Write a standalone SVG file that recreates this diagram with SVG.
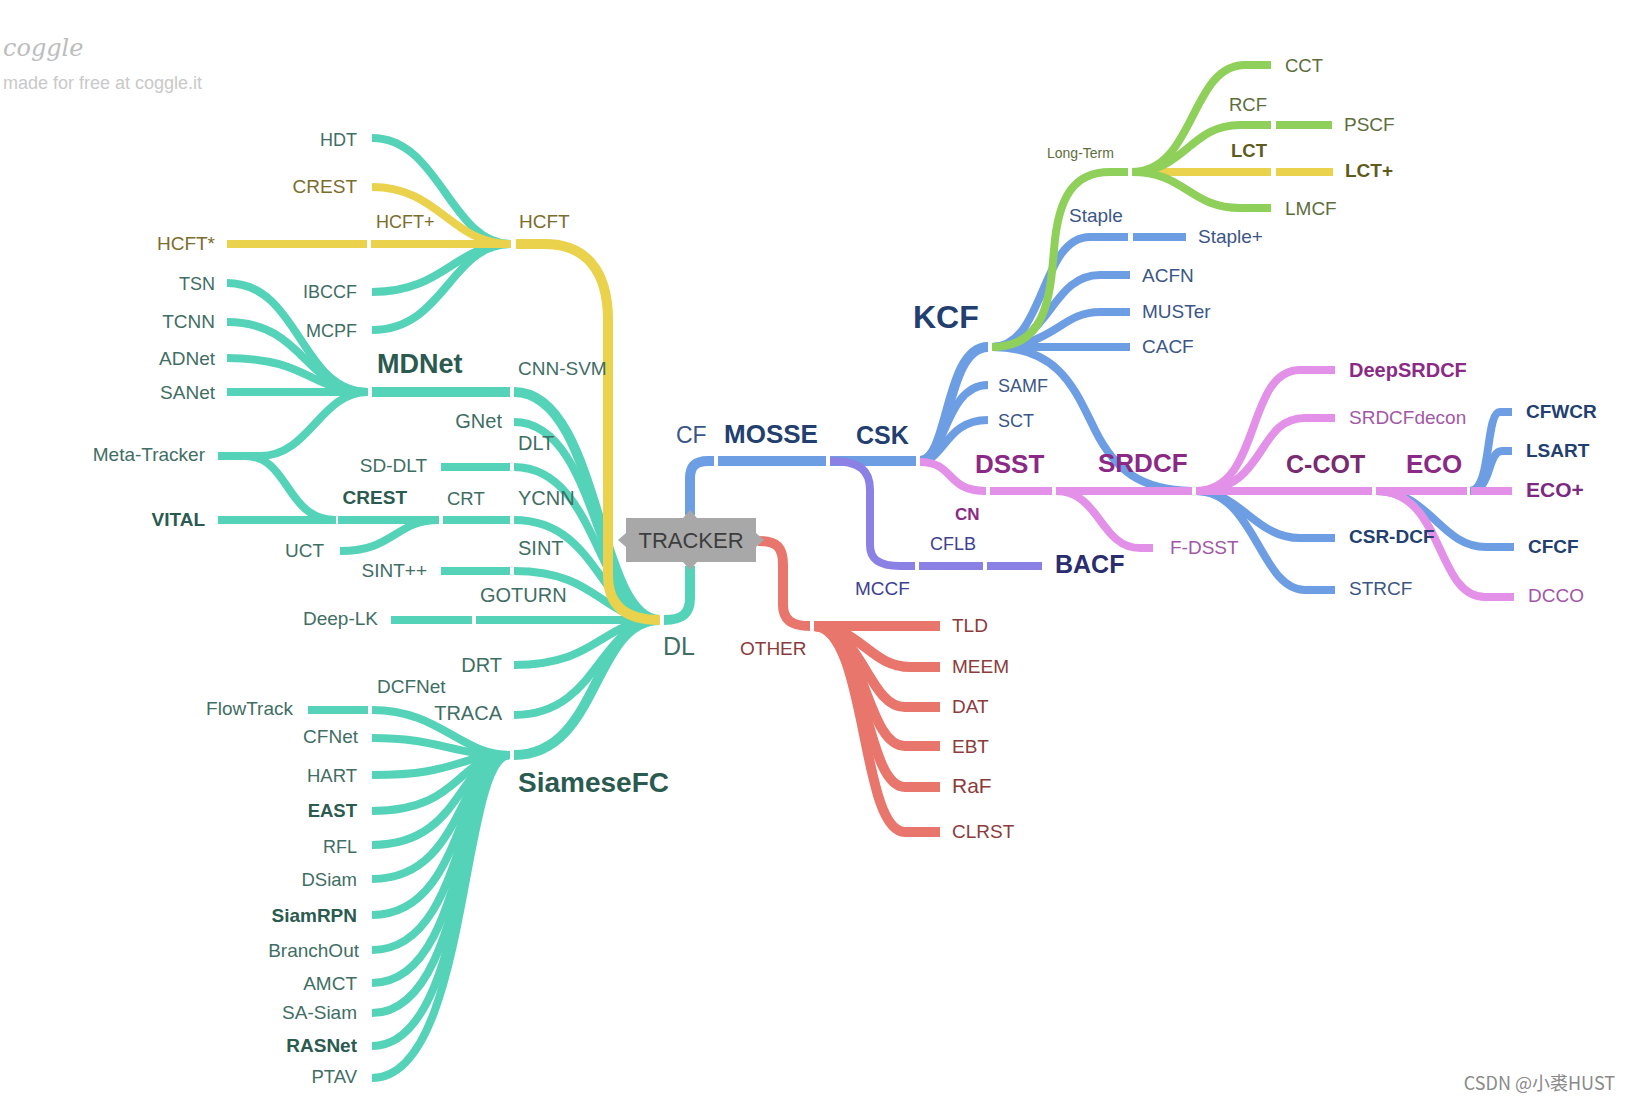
<svg xmlns="http://www.w3.org/2000/svg" width="1631" height="1104" viewBox="0 0 1631 1104">
<style>
.e{fill:none;stroke-linecap:butt;stroke-linejoin:round;stroke-width:8}
.w{stroke-width:10}
.teal{stroke:#55d3b9}.yel{stroke:#ead24c}.blu{stroke:#6d9ee3}.grn{stroke:#8fd05a}.pnk{stroke:#e391e8}.pur{stroke:#8b80e3}.red{stroke:#e8766d}
text{font-family:"Liberation Sans",Arial,sans-serif;font-size:19px}
.b{font-weight:bold}
.tl{fill:#3f6e64}.tb{fill:#2b5b50}.ol{fill:#7b6d2c}.bl{fill:#3b5685}.bb{fill:#223f70}.gr{fill:#5d6e3c}.lc{fill:#5f5b1c}
.pb{fill:#8b2a86}.pl{fill:#a257a6}.pu{fill:#3e4190}.rd{fill:#8b3b3b}
.end{text-anchor:end}
</style>
<rect width="1631" height="1104" fill="#ffffff"/>
<g id="watermark">
<text x="3" y="56" style="font-family:'DejaVu Serif',serif;font-style:italic;font-size:24px" fill="#bdbdbd">coggle</text>
<text x="3" y="89" style="font-size:18px" fill="#c9c9c9">made for free at coggle.it</text>
</g>
<g id="connectors">
<!-- teal DL -->
<path class="e w teal" d="M690,566 L690,598 C690,614 682,620 664,620"/>
<path class="e w teal" d="M660,620 C596,620 600,392 514,392"/>
<path class="e w teal" d="M510,392 L372,392"/>
<path class="e teal" d="M368,392 L227,392"/>
<path class="e teal" d="M368,392 C300,392 300,283 227,283"/>
<path class="e teal" d="M368,392 C305,392 305,322 227,322"/>
<path class="e teal" d="M368,392 C310,392 310,358 227,358"/>
<path class="e teal" d="M368,392 C320,392 310,456 260,456 L218,456"/>
<path class="e teal" d="M336,520 C285,520 290,456 245,456"/>
<path class="e teal" d="M660,620 C597,620 600,422 514,422"/>
<path class="e teal" d="M660,620 C598,620 600,467 514,467"/>
<path class="e teal" d="M510,467 L441,467"/>
<path class="e teal" d="M660,620 C599,620 600,520 514,520"/>
<path class="e teal" d="M510,520 L443,520"/>
<path class="e teal" d="M439,520 L338,520"/>
<path class="e teal" d="M334,520 L218,520"/>
<path class="e teal" d="M439,520 C395,520 395,551 340,551"/>
<path class="e teal" d="M660,620 C600,620 600,571 514,571"/>
<path class="e teal" d="M510,571 L441,571"/>
<path class="e teal" d="M660,620 L476,620"/>
<path class="e teal" d="M472,620 L391,620"/>
<path class="e teal" d="M660,620 C600,620 600,665 514,665"/>
<path class="e teal" d="M660,620 C598,620 600,715 514,715"/>
<path class="e w teal" d="M660,620 C592,620 600,755 514,755"/>
<path class="e teal" d="M510,755 C460,755 440,710 372,710"/>
<path class="e teal" d="M368,710 L308,710"/>
<path class="e teal" d="M510,755 C450,755 440,738 372,738"/>
<path class="e teal" d="M510,755 C455,755 460,775 372,775"/>
<path class="e teal" d="M510,755 C456,755 462,811 372,811"/>
<path class="e teal" d="M510,755 C457,755 464,845 372,845"/>
<path class="e teal" d="M510,755 C458,755 466,879 372,879"/>
<path class="e teal" d="M510,755 C458,755 467,915 372,915"/>
<path class="e teal" d="M510,755 C459,755 468,950 372,950"/>
<path class="e teal" d="M510,755 C459,755 469,983 372,983"/>
<path class="e teal" d="M510,755 C460,755 470,1013 372,1013"/>
<path class="e teal" d="M510,755 C460,755 470,1046 372,1046"/>
<path class="e teal" d="M510,755 C460,755 470,1078 372,1078"/>
<path class="e teal" d="M511,244 C450,244 440,138 372,138"/>
<path class="e teal" d="M511,244 C455,244 445,292 372,292"/>
<path class="e teal" d="M511,244 C450,244 445,330 372,330"/>
<!-- yellow -->
<path class="e w yel" d="M660,620 C625,620 608,605 608,575 L608,320 C608,270 585,244 545,244 L516,244"/>
<path class="e yel" d="M511,244 C450,244 440,187 372,187"/>
<path class="e yel" d="M511,244 L371,244"/>
<path class="e yel" d="M367,244 L227,244"/>
<path class="e yel" d="M1132,172 L1271,172"/>
<path class="e yel" d="M1276,172 L1333,172"/>
<!-- blue -->
<path class="e w blu" d="M690,515 L690,478 C690,466 696,461 708,461 L714,461"/>
<path class="e w blu" d="M718,461 L826,461"/>
<path class="e w blu" d="M830,461 L916,461"/>
<path class="e w blu" d="M920,461 C950,461 945,347 988,347"/>
<path class="e blu" d="M920,461 C945,461 945,385 988,385"/>
<path class="e blu" d="M920,461 C945,461 945,420 988,420"/>
<path class="e blu" d="M992,347 C1045,347 1040,237 1090,237 L1128,237"/>
<path class="e blu" d="M1133,237 L1186,237"/>
<path class="e blu" d="M992,347 C1050,347 1050,275 1100,275 L1130,275"/>
<path class="e blu" d="M992,347 C1055,347 1060,312 1100,312 L1130,312"/>
<path class="e blu" d="M992,347 L1130,347"/>
<path class="e blu" d="M992,347 C1060,347 1075,390 1095,430 C1115,470 1140,490 1192,491"/>
<path class="e blu" d="M1196,491 C1240,491 1255,538 1300,538 L1335,538"/>
<path class="e blu" d="M1196,491 C1255,491 1260,590 1305,590 L1335,590"/>
<path class="e blu" d="M1376,491 C1430,491 1440,547 1486,547 L1514,547"/>
<path class="e blu" d="M1470,491 C1492,491 1485,412 1500,412 L1512,412"/>
<path class="e blu" d="M1470,491 C1492,491 1487,451 1502,451 L1512,451"/>
<!-- green -->
<path class="e grn" d="M992,347 C1045,347 1050,300 1054,250 C1058,195 1075,172 1110,172 L1128,172"/>
<path class="e grn" d="M1132,172 C1195,172 1190,65 1245,65 L1271,65"/>
<path class="e grn" d="M1132,172 C1185,172 1190,125 1240,125 L1271,125"/>
<path class="e grn" d="M1276,125 L1332,125"/>
<path class="e grn" d="M1132,172 C1185,172 1190,208 1240,208 L1271,208"/>
<!-- pink -->
<path class="e pnk" d="M920,462 C955,462 945,491 986,491"/>
<path class="e pnk" d="M990,491 L1052,491"/>
<path class="e pnk" d="M1056,491 L1192,491"/>
<path class="e pnk" d="M1056,491 C1100,491 1100,548 1140,548 L1153,548"/>
<path class="e pnk" d="M1196,491 L1372,491"/>
<path class="e pnk" d="M1196,491 C1262,491 1245,370 1300,370 L1335,370"/>
<path class="e pnk" d="M1196,491 C1268,491 1255,418 1305,418 L1335,418"/>
<path class="e pnk" d="M1376,491 L1467,491"/>
<path class="e pnk" d="M1471,491 L1512,491"/>
<path class="e pnk" d="M1376,491 C1445,491 1435,597 1485,597 L1514,597"/>
<!-- purple -->
<path class="e pur" d="M830,461 C860,461 870,470 870,490 L870,545 C870,560 880,566 900,566 L915,566"/>
<path class="e pur" d="M919,566 L983,566"/>
<path class="e pur" d="M987,566 L1042,566"/>
<!-- red -->
<path class="e w red" d="M758,541 C778,541 783,548 783,565 L783,605 C783,620 792,626 810,626"/>
<path class="e w red" d="M814,626 L940,626"/>
<path class="e w red" d="M814,626 C860,626 870,667 910,667 L940,667"/>
<path class="e w red" d="M814,626 C862,626 868,707 905,707 L940,707"/>
<path class="e w red" d="M814,626 C865,626 865,746 905,746 L940,746"/>
<path class="e w red" d="M814,626 C866,626 864,787 905,787 L940,787"/>
<path class="e w red" d="M814,626 C868,626 860,832 905,832 L940,832"/>
</g>
<g id="tracker">
<rect x="626" y="518" width="130" height="44" fill="#a8a8a8"/>
<polygon points="626,533 618,540 626,547" fill="#a8a8a8"/>
<polygon points="683,518 690,510 697,518" fill="#a8a8a8"/>
<polygon points="683,562 690,570 697,562" fill="#a8a8a8"/>
<polygon points="756,533 764,540 756,547" fill="#a8a8a8"/>
<text x="691" y="548" text-anchor="middle" style="font-size:22px" fill="#3d3d3d">TRACKER</text>
</g>
<g id="n-dl"><text x="663" y="655" class="tl" style="font-size:25px">DL</text></g>
<g id="n-hcft"><text x="519" y="228" class="ol">HCFT</text></g>
<g id="n-hdt"><text x="357" y="146" class="tl end" style="font-size:18px">HDT</text></g>
<g id="n-crest1"><text x="357" y="193" class="ol end">CREST</text></g>
<g id="n-hcftp"><text x="376" y="228" class="ol" style="font-size:18px">HCFT+</text></g>
<g id="n-hcfts"><text x="215" y="250" class="ol end">HCFT*</text></g>
<g id="n-ibccf"><text x="357" y="298" class="tl end" style="font-size:18px">IBCCF</text></g>
<g id="n-mcpf"><text x="357" y="337" class="tl end" style="font-size:18px">MCPF</text></g>
<g id="n-tsn"><text x="215" y="290" class="tl end" style="font-size:18px">TSN</text></g>
<g id="n-tcnn"><text x="215" y="328" class="tl end">TCNN</text></g>
<g id="n-adnet"><text x="215" y="365" class="tl end">ADNet</text></g>
<g id="n-sanet"><text x="215" y="399" class="tl end">SANet</text></g>
<g id="n-mdnet"><text x="377" y="373" class="tb b" style="font-size:27px">MDNet</text></g>
<g id="n-cnnsvm"><text x="518" y="375" class="tl">CNN-SVM</text></g>
<g id="n-gnet"><text x="502" y="428" class="tl end" style="font-size:20px">GNet</text></g>
<g id="n-dlt"><text x="518" y="450" class="tl" style="font-size:20px">DLT</text></g>
<g id="n-metatracker"><text x="205" y="461" class="tl end">Meta-Tracker</text></g>
<g id="n-sddlt"><text x="427" y="472" class="tl end">SD-DLT</text></g>
<g id="n-crest2"><text x="407" y="504" class="tb b end">CREST</text></g>
<g id="n-crt"><text x="447" y="505" class="tl" style="font-size:18.5px">CRT</text></g>
<g id="n-ycnn"><text x="518" y="505" class="tl" style="font-size:20px">YCNN</text></g>
<g id="n-vital"><text x="205" y="526" class="tb b end">VITAL</text></g>
<g id="n-uct"><text x="324" y="557" class="tl end">UCT</text></g>
<g id="n-sint"><text x="518" y="555" class="tl" style="font-size:20px">SINT</text></g>
<g id="n-sintpp"><text x="427" y="577" class="tl end">SINT++</text></g>
<g id="n-goturn"><text x="480" y="602" class="tl" style="font-size:20px">GOTURN</text></g>
<g id="n-deeplk"><text x="378" y="625" class="tl end">Deep-LK</text></g>
<g id="n-drt"><text x="502" y="672" class="tl end" style="font-size:20px">DRT</text></g>
<g id="n-dcfnet"><text x="377" y="693" class="tl">DCFNet</text></g>
<g id="n-flowtrack"><text x="293" y="715" class="tl end">FlowTrack</text></g>
<g id="n-traca"><text x="502" y="720" class="tl end" style="font-size:20px">TRACA</text></g>
<g id="n-siamesefc"><text x="518" y="792" class="tb b" style="font-size:28px">SiameseFC</text></g>
<g id="n-cfnet"><text x="358" y="743" class="tl end">CFNet</text></g>
<g id="n-hart"><text x="357" y="782" class="tl end" style="font-size:18.5px">HART</text></g>
<g id="n-east"><text x="357" y="817" class="tb b end" style="font-size:18.5px">EAST</text></g>
<g id="n-rfl"><text x="357" y="853" class="tl end" style="font-size:18px">RFL</text></g>
<g id="n-dsiam"><text x="357" y="886" class="tl end" style="font-size:18.5px">DSiam</text></g>
<g id="n-siamrpn"><text x="357" y="922" class="tb b end">SiamRPN</text></g>
<g id="n-branchout"><text x="359" y="957" class="tl end">BranchOut</text></g>
<g id="n-amct"><text x="357" y="990" class="tl end">AMCT</text></g>
<g id="n-sasiam"><text x="357" y="1019" class="tl end">SA-Siam</text></g>
<g id="n-rasnet"><text x="357" y="1052" class="tb b end">RASNet</text></g>
<g id="n-ptav"><text x="357" y="1083" class="tl end" style="font-size:18.5px">PTAV</text></g>
<g id="n-cf"><text x="676" y="443" class="bl" style="font-size:23px">CF</text></g>
<g id="n-mosse"><text x="724" y="443" class="bb b" style="font-size:26px">MOSSE</text></g>
<g id="n-csk"><text x="856" y="444" class="bb b" style="font-size:25px">CSK</text></g>
<g id="n-kcf"><text x="913" y="328" class="bb b" style="font-size:32px">KCF</text></g>
<g id="n-samf"><text x="998" y="392" class="bl" style="font-size:18px">SAMF</text></g>
<g id="n-sct"><text x="998" y="427" class="bl" style="font-size:18px">SCT</text></g>
<g id="n-cn"><text x="955" y="520" class="pb b" style="font-size:17px">CN</text></g>
<g id="n-dsst"><text x="975" y="473" class="pb b" style="font-size:26px">DSST</text></g>
<g id="n-srdcf"><text x="1098" y="472" class="pb b" style="font-size:26px">SRDCF</text></g>
<g id="n-fdsst"><text x="1170" y="554" class="pl">F-DSST</text></g>
<g id="n-mccf"><text x="855" y="595" class="pu">MCCF</text></g>
<g id="n-cflb"><text x="930" y="550" class="pu" style="font-size:18px">CFLB</text></g>
<g id="n-bacf"><text x="1055" y="573" class="pu b" style="font-size:25px;fill:#2a2d6e">BACF</text></g>
<g id="n-other"><text x="740" y="655" class="rd">OTHER</text></g>
<g id="n-tld"><text x="952" y="632" class="rd">TLD</text></g>
<g id="n-meem"><text x="952" y="673" class="rd">MEEM</text></g>
<g id="n-dat"><text x="952" y="713" class="rd">DAT</text></g>
<g id="n-ebt"><text x="952" y="753" class="rd">EBT</text></g>
<g id="n-raf"><text x="952" y="793" class="rd" style="font-size:21px">RaF</text></g>
<g id="n-clrst"><text x="952" y="838" class="rd">CLRST</text></g>
<g id="n-longterm"><text x="1047" y="158" class="gr" style="font-size:14px">Long-Term</text></g>
<g id="n-cct"><text x="1285" y="72" class="gr" style="font-size:18.5px">CCT</text></g>
<g id="n-rcf"><text x="1229" y="111" class="gr" style="font-size:18.5px">RCF</text></g>
<g id="n-pscf"><text x="1344" y="131" class="gr">PSCF</text></g>
<g id="n-lct"><text x="1231" y="157" class="lc b" style="font-size:18.5px">LCT</text></g>
<g id="n-lctp"><text x="1345" y="177" class="lc b">LCT+</text></g>
<g id="n-lmcf"><text x="1285" y="215" class="gr">LMCF</text></g>
<g id="n-staple"><text x="1069" y="222" class="bl">Staple</text></g>
<g id="n-staplep"><text x="1198" y="243" class="bl">Staple+</text></g>
<g id="n-acfn"><text x="1142" y="282" class="bl">ACFN</text></g>
<g id="n-muster"><text x="1142" y="318" class="bl">MUSTer</text></g>
<g id="n-cacf"><text x="1142" y="353" class="bl">CACF</text></g>
<g id="n-deepsrdcf"><text x="1349" y="377" class="pb b" style="font-size:20px">DeepSRDCF</text></g>
<g id="n-srdcfdecon"><text x="1349" y="424" class="pl">SRDCFdecon</text></g>
<g id="n-cfwcr"><text x="1526" y="418" class="bb b">CFWCR</text></g>
<g id="n-lsart"><text x="1526" y="457" class="bb b">LSART</text></g>
<g id="n-ccot"><text x="1286" y="473" class="pb b" style="font-size:25px;fill:#7a2a70">C-COT</text></g>
<g id="n-eco"><text x="1406" y="473" class="pb b" style="font-size:26px">ECO</text></g>
<g id="n-ecop"><text x="1526" y="497" class="pb b" style="font-size:21px;fill:#7a2a80">ECO+</text></g>
<g id="n-csrdcf"><text x="1349" y="543" class="bb b">CSR-DCF</text></g>
<g id="n-cfcf"><text x="1528" y="553" class="bb b">CFCF</text></g>
<g id="n-strcf"><text x="1349" y="595" class="bl">STRCF</text></g>
<g id="n-dcco"><text x="1528" y="602" class="pl">DCCO</text></g>
<g id="csdn"><text x="1615" y="1090" text-anchor="end" style="font-family:'Noto Sans CJK SC','Liberation Sans',sans-serif;font-size:18px" fill="#8a8a8a">CSDN @小裘HUST</text></g>
</svg>
